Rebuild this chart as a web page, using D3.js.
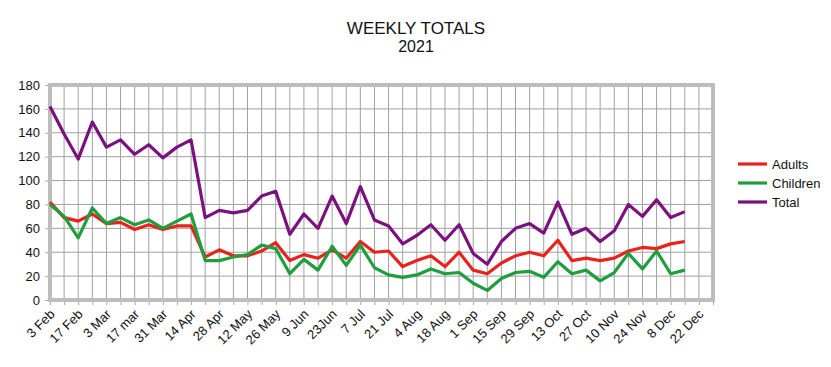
<!DOCTYPE html>
<html>
<head>
<meta charset="utf-8">
<script src="https://cdn.jsdelivr.net/npm/d3@7"></script>
<style>
  body { margin: 0; background: #fff; }
  text { font-family: "Liberation Sans", Arial, sans-serif; fill: #111; }
</style>
</head>
<body>
<svg id="chart" width="831" height="367"></svg>
<script>
// Weekly categories (every other one is labelled on the axis)
const weeks = ['3 Feb','10 Feb','17 Feb','24 Feb','3 Mar','10 Mar','17 mar','24 Mar','31 Mar',
  '7 Apr','14 Apr','21 Apr','28 Apr','5 May','12 May','19 May','26 May','2 Jun','9 Jun','16 Jun',
  '23Jun','30 Jun','7 Jul','14 Jul','21 Jul','28 Jul','4 Aug','11 Aug','18 Aug','25 Aug','1 Sep',
  '8 Sep','15 Sep','22 Sep','29 Sep','6 Oct','13 Oct','20 Oct','27 Oct','3 Nov','10 Nov','17 Nov',
  '24 Nov','1 Dec','8 Dec','15 Dec','22 Dec','29 Dec'];

const adults = [82,69,66,72,64,65,59,63,59,62,62,36,42,37,37,41,48,33,38,35,42,35,49,40,41,28,
  33,37,28,40,25,22,31,37,40,37,50,33,35,33,35,41,44,43,47,49];
const children = [80,70,52,77,64,69,63,67,60,66,72,33,33,36,38,46,43,22,34,25,45,29,46,27,21,19,
  21,26,22,23,14,8,18,23,24,19,32,22,25,16,23,39,26,41,22,25];
const total = [162,139,118,149,128,134,122,130,119,128,134,69,75,73,75,87,91,55,72,60,87,64,95,
  67,62,47,54,63,50,63,39,30,49,60,64,56,82,55,60,49,58,80,70,84,69,74];

const yTicks = [0,20,40,60,80,100,120,140,160,180];

const seriesNames = ['Adults','Children','Total'];
const seriesColors = ['#e8231e','#1e9e3c','#7a117c'];
const seriesValues = [adults, children, total];

const svg = d3.select('#chart');

const margin = { top: 85, right: 118, bottom: 67, left: 50 };
const width = +svg.attr('width');
const height = +svg.attr('height');
const innerWidth = width - margin.left - margin.right;
const innerHeight = height - margin.top - margin.bottom;

const x = d3.scalePoint().domain(weeks).range([0, innerWidth]);
const y = d3.scaleLinear().domain([0, 180]).range([innerHeight, 0]);

// title
svg.append('text').attr('x', 416).attr('y', 34).attr('text-anchor', 'middle')
  .style('font-size', '17px').text('WEEKLY TOTALS');
svg.append('text').attr('x', 416).attr('y', 52).attr('text-anchor', 'middle')
  .style('font-size', '16px').text('2021');

const g = svg.append('g').attr('transform', `translate(${margin.left},${margin.top})`);

// gridlines
g.append('g').selectAll('line').data(yTicks).enter().append('line')
  .attr('x1', 0).attr('x2', innerWidth)
  .attr('y1', d => y(d)).attr('y2', d => y(d))
  .attr('stroke', '#a0a0a0').attr('stroke-width', 1);
g.append('g').selectAll('line').data(weeks).enter().append('line')
  .attr('x1', d => x(d)).attr('x2', d => x(d))
  .attr('y1', 0).attr('y2', innerHeight)
  .attr('stroke', '#a0a0a0').attr('stroke-width', 1);

// y axis
const yAxisG = g.append('g').call(d3.axisLeft(y).tickValues(yTicks).tickSize(5).tickPadding(5));
yAxisG.select('.domain').remove();
yAxisG.selectAll('line').attr('stroke', '#aaa');
yAxisG.selectAll('text').style('font-size', '13px').attr('fill', '#111');

// x axis, only every second week gets a label
const xAxisG = g.append('g').attr('transform', `translate(0,${innerHeight})`)
  .call(d3.axisBottom(x).tickSize(5).tickFormat((d, i) => i % 2 === 0 ? d : ''));
xAxisG.select('.domain').remove();
xAxisG.selectAll('line').attr('stroke', '#aaa');
xAxisG.selectAll('text').filter(function() { return this.textContent === ''; }).remove();
xAxisG.selectAll('text')
  .style('font-size', '13px').attr('fill', '#111')
  .style('text-anchor', 'end')
  .attr('dy', null).attr('y', 0)
  .attr('transform', 'translate(5,15) rotate(-45)');

// plot border
g.append('rect').attr('x', 0).attr('y', 0)
  .attr('width', innerWidth).attr('height', innerHeight)
  .attr('fill', 'none').attr('stroke', '#bdbdbd').attr('stroke-width', 4);

// lines
const line = d3.line().x((d, i) => x(weeks[i])).y(d => y(d));
seriesValues.forEach((vals, k) => {
  g.append('path').datum(vals)
    .attr('d', line)
    .attr('fill', 'none')
    .attr('stroke', seriesColors[k])
    .attr('stroke-width', 3.2)
    .attr('stroke-linejoin', 'round');
});

// legend
const legend = svg.append('g').attr('transform', 'translate(738,164)');
seriesNames.forEach((name, k) => {
  const row = legend.append('g').attr('transform', `translate(0,${k * 19})`);
  row.append('line').attr('x1', 0).attr('x2', 29).attr('y1', 0).attr('y2', 0)
    .attr('stroke', seriesColors[k]).attr('stroke-width', 3.2);
  row.append('text').attr('x', 34).attr('y', 5).style('font-size', '13px').text(name);
});
</script>
</body>
</html>
